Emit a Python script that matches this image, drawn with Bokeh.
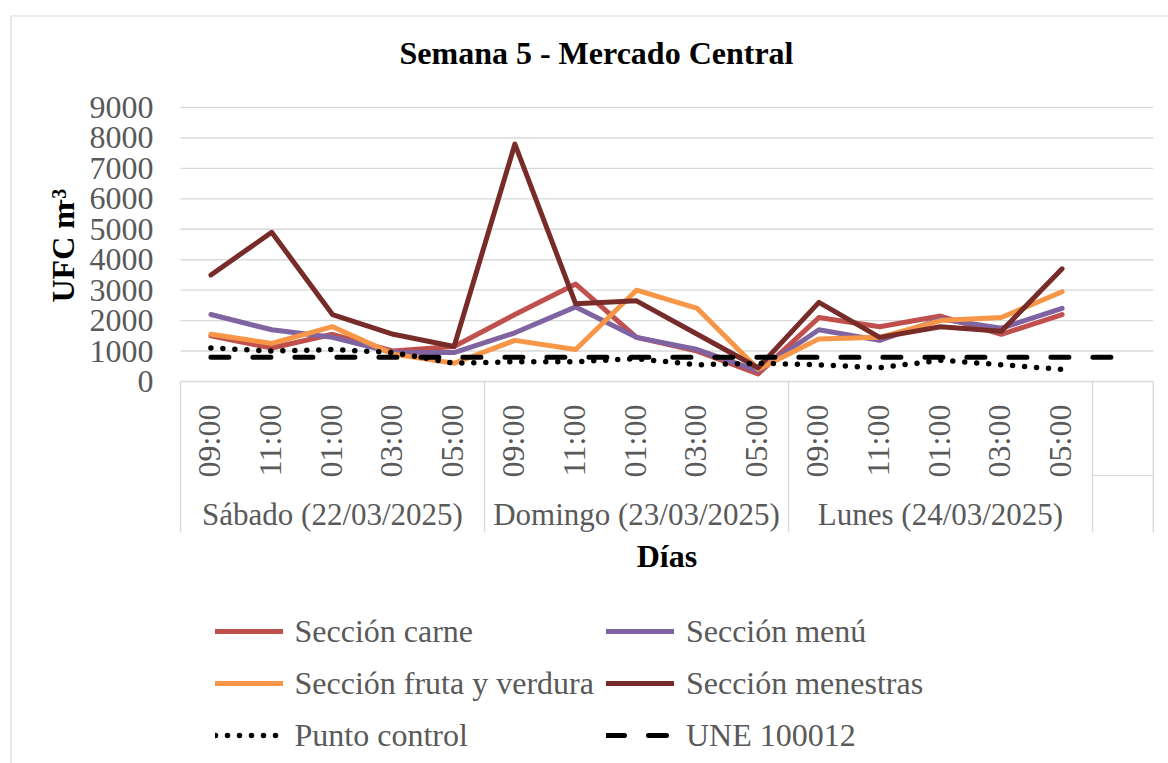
import math
from bokeh.plotting import figure
from bokeh.models import Legend, LegendItem
from bokeh.core.properties import value
from bokeh.embed import file_html
from bokeh.resources import INLINE

# ---------------- data ----------------
title_text = "Semana 5 - Mercado Central"
y_title = "UFC m"
y_title_sup = "-3"
x_title = "Días"
days = ["Sábado (22/03/2025)", "Domingo (23/03/2025)", "Lunes (24/03/2025)"]
hours = ["09:00", "11:00", "01:00", "03:00", "05:00"]
y_ticks = [0, 1000, 2000, 3000, 4000, 5000, 6000, 7000, 8000, 9000]

carne = [1500, 1100, 1550, 1000, 1150, 2200, 3200, 1450, 1000, 250, 2100, 1800, 2150, 1550, 2200]
menu = [2200, 1700, 1450, 950, 950, 1600, 2450, 1450, 1050, 350, 1700, 1350, 2050, 1750, 2400]
fruta = [1550, 1250, 1800, 900, 600, 1350, 1050, 3000, 2400, 400, 1400, 1450, 2000, 2100, 2950]
menestras = [3500, 4900, 2200, 1550, 1150, 7800, 2550, 2650, 1550, 450, 2600, 1450, 1800, 1650, 3700]
punto_control = [1100, 1000, 1050, 950, 600, 650, 650, 750, 550, 600, 550, 450, 700, 550, 400]
une_100012 = [800, 800, 800, 800, 800, 800, 800, 800, 800, 800, 800, 800, 800, 800, 800, 800]

series_names = ["Sección carne", "Sección menú", "Sección fruta y verdura",
                "Sección menestras", "Punto control", "UNE 100012"]

# ---------------- layout (page pixels) ----------------
W, H = 1168, 763
PAGE_OFF = 0
PLOT_LEFT = 180.0
CAT_W = 60.8
ZERO_Y = 381.0
PX_PER_UNIT = 274.0 / 9000.0

def dx(px):
    return (px - PLOT_LEFT) / CAT_W

def dy(py):
    return (ZERO_Y - py) / PX_PER_UNIT

FONT = value("Liberation Serif")
GREY = "#595959"
GRID = "#D9D9D9"

n_slots = len(une_100012)
categories = [(d, h) for d in days for h in hours]
xs = [i + 0.5 for i in range(len(categories))]
xs_une = [i + 0.5 for i in range(n_slots)]

p = figure(width=W, height=H, output_backend="svg", toolbar_location=None,
           x_range=(dx(PAGE_OFF), dx(PAGE_OFF + W)),
           y_range=(dy(PAGE_OFF + H), dy(PAGE_OFF)),
           x_axis_location=None, y_axis_location=None, title=None,
           min_border=0)
p.outline_line_color = None
p.background_fill_color = "white"
p.border_fill_color = "white"
p.xgrid.grid_line_color = None
p.ygrid.grid_line_color = None

# chart border (only left/top visible in the window)
p.quad(left=[dx(10.5)], right=[dx(1400)], top=[dy(15.5)], bottom=[dy(1000)],
       fill_color=None, line_color=GRID, line_width=1.2)

# horizontal gridlines
p.segment(x0=[0] * len(y_ticks), x1=[n_slots] * len(y_ticks), y0=y_ticks, y1=y_ticks,
          line_color=GRID, line_width=1.4)

# category axis box separators
group_edges = [0]
for d in days:
    group_edges.append(group_edges[-1] + len(hours))
group_edges.append(n_slots)
box_bottom = dy(532)
p.segment(x0=group_edges, x1=group_edges, y0=[0] * len(group_edges),
          y1=[box_bottom] * len(group_edges), line_color=GRID, line_width=1.4)
p.segment(x0=[group_edges[-2]], x1=[n_slots], y0=[dy(475)], y1=[dy(475)],
          line_color=GRID, line_width=1.0)

# y tick labels
p.text(x=[dx(153)] * len(y_ticks), y=y_ticks, text=[str(t) for t in y_ticks],
       text_font=FONT, text_font_size="32px", text_color=GREY,
       text_align="right", text_baseline="middle")

# hour labels (rotated)
p.text(x=[x - 0.03 for x in xs], y=[dy(404)] * len(xs), text=[h for (_, h) in categories],
       angle=math.pi / 2, text_font=FONT, text_font_size="32px", text_color=GREY,
       text_align="right", text_baseline="middle")

# day labels
group_centers = [(group_edges[i] + group_edges[i + 1]) / 2 for i in range(len(days))]
p.text(x=group_centers, y=[dy(514)] * len(days), text=days,
       text_font=FONT, text_font_size="31px", text_color=GREY,
       text_align="center", text_baseline="middle")

# titles
p.text(x=[dx(596)], y=[dy(52)], text=[title_text], text_font=FONT,
       text_font_size="32px", text_font_style="bold", text_color="black",
       text_align="center", text_baseline="middle")
p.text(x=[n_slots / 2], y=[dy(555)], text=[x_title], text_font=FONT,
       text_font_size="32px", text_font_style="bold", text_color="black",
       text_align="center", text_baseline="middle")
p.text(x=[dx(62.5)], y=[dy(302)], text=[y_title], angle=math.pi / 2, text_font=FONT,
       text_font_size="32px", text_font_style="bold", text_color="black",
       text_align="left", text_baseline="middle")
p.text(x=[dx(58.5)], y=[dy(205)], text=[y_title_sup], angle=math.pi / 2, text_font=FONT,
       text_font_size="20px", text_font_style="bold", text_color="black",
       text_align="left", text_baseline="middle")

# series
colors = ["#C0504D", "#8064A2", "#F79646", "#772C2A"]
renderers = []
for vals, col in zip([carne, menu, fruta, menestras], colors):
    r = p.line(xs, vals, line_color=col, line_width=5, line_cap="round", line_join="round")
    renderers.append(r)
r_pc = p.line(xs, punto_control, line_color="black", line_width=5.5, line_dash="0 12",
              line_cap="round", line_join="round")
renderers.append(r_pc)
r_une = p.line(xs_une, une_100012, line_color="black", line_width=5, line_dash="18 24",
               line_cap="round", line_join="round")
renderers.append(r_une)

items = [LegendItem(label=n, renderers=[r]) for n, r in zip(series_names, renderers)]
legend = Legend(items=items, location=(214.5 - PAGE_OFF, 763 - (PAGE_OFF + H) + 8),
                orientation="horizontal", ncols=2,
                glyph_width=68, glyph_height=40, label_height=40, label_standoff=12,
                spacing=12, padding=0, margin=0,
                label_text_font="Liberation Serif", label_text_font_size="32px",
                label_text_color=GREY, background_fill_alpha=0, border_line_alpha=0)
p.add_layout(legend)

open("out.html", "w").write(file_html(p, INLINE))
